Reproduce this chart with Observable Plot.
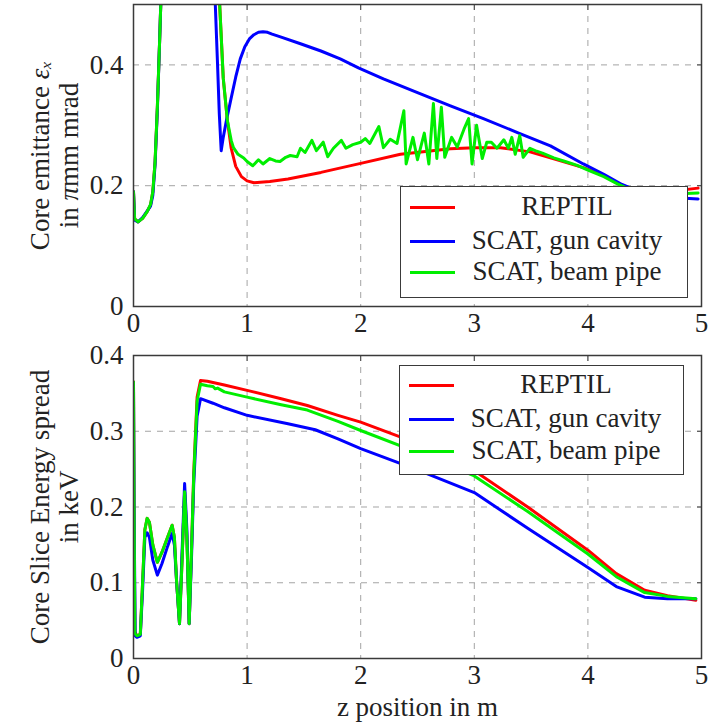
<!DOCTYPE html>
<html>
<head>
<meta charset="utf-8">
<script src="https://cdn.jsdelivr.net/npm/d3@7"></script>
<script src="https://cdn.jsdelivr.net/npm/@observablehq/plot@0.6"></script>
<style>
  html, body { margin: 0; padding: 0; background: #fff; }
  #wrap { position: relative; width: 712px; height: 727px; font-family: "Liberation Serif", serif; }
  #wrap svg { display: block; }
  .legend { position: absolute; background: #fff; border: 1.5px solid #3a3a3a; box-sizing: border-box; font-family: "Liberation Serif", serif; font-size: 27px; color: #222; }
  .legend .row { position: absolute; left: 0; width: 100%; height: 30px; }
  .legend .sw { position: absolute; left: 9px; top: 13px; width: 45px; height: 3px; }
  .legend .lab { position: absolute; left: 61px; width: 210px; top: -2px; text-align: center; line-height: 30px; white-space: nowrap; }
</style>
</head>
<body>
<div id="wrap"></div>
<script>
// ---------- Series names and colours ----------
const seriesNames = ["REPTIL", "SCAT, gun cavity", "SCAT, beam pipe"];
const seriesColors = ["#ff0000", "#0000ff", "#00ee00"];
const xTicks = [0, 1, 2, 3, 4, 5];
const yTicksTop = [0, 0.2, 0.4];
const yTicksBottom = [0, 0.1, 0.2, 0.3, 0.4];

// ---------- Top panel: core emittance (pi mm mrad) ----------
const zEmitReptil = [0, 0.01, 0.04, 0.08, 0.12, 0.15, 0.17, 0.19, 0.21, 0.23, 0.25, 0.26, 0.74, 0.757, 0.79, 0.827, 0.86, 0.9, 0.95, 1.0, 1.06, 1.2, 1.36, 1.65, 2.0, 2.35, 2.79, 3.0, 3.23, 3.49, 3.67, 3.96, 4.14, 4.26, 4.37, 4.5, 4.7, 4.97];
const emitReptil  = [0.19, 0.145, 0.14, 0.146, 0.157, 0.168, 0.19, 0.24, 0.33, 0.44, 0.56, 0.62, 0.6, 0.506, 0.378, 0.307, 0.262, 0.232, 0.215, 0.208, 0.205, 0.207, 0.211, 0.222, 0.237, 0.252, 0.261, 0.263, 0.263, 0.256, 0.246, 0.23, 0.217, 0.204, 0.196, 0.19, 0.19, 0.196];

const zEmitGun = [0, 0.01, 0.04, 0.08, 0.12, 0.15, 0.17, 0.19, 0.21, 0.23, 0.25, 0.26, 0.712, 0.72, 0.74, 0.755, 0.772, 0.79, 0.82, 0.854, 0.9, 0.94, 0.98, 1.02, 1.06, 1.1, 1.14, 1.18, 1.22, 1.3, 1.47, 1.65, 1.82, 1.98, 2.2, 2.5, 2.79, 3.08, 3.38, 3.67, 3.96, 4.14, 4.3, 4.45, 4.7, 4.97];
const emitGun  = [0.19, 0.143, 0.14, 0.147, 0.158, 0.166, 0.184, 0.235, 0.325, 0.44, 0.56, 0.62, 0.52, 0.5, 0.4, 0.32, 0.258, 0.28, 0.31, 0.34, 0.38, 0.41, 0.43, 0.443, 0.45, 0.454, 0.455, 0.454, 0.451, 0.446, 0.435, 0.423, 0.41, 0.395, 0.377, 0.354, 0.332, 0.311, 0.288, 0.266, 0.236, 0.219, 0.202, 0.19, 0.181, 0.178];

const zEmitPipe = [0, 0.01, 0.04, 0.08, 0.12, 0.15, 0.17, 0.19, 0.21, 0.23, 0.25, 0.26, 0.745, 0.757, 0.79, 0.827, 0.86, 0.88, 0.92, 0.97, 1.0, 1.05, 1.1, 1.14, 1.2, 1.25, 1.29, 1.34, 1.38, 1.44, 1.47, 1.51, 1.57, 1.61, 1.67, 1.71, 1.76, 1.83, 1.87, 1.93, 2.0, 2.04, 2.08, 2.16, 2.2, 2.26, 2.32, 2.38, 2.4, 2.46, 2.5, 2.56, 2.6, 2.64, 2.67, 2.71, 2.74, 2.8, 2.85, 2.91, 2.95, 2.98, 3.02, 3.07, 3.11, 3.15, 3.2, 3.26, 3.3, 3.33, 3.36, 3.4, 3.43, 3.49, 3.55, 3.6, 3.7, 3.8, 3.9, 4.0, 4.14, 4.26, 4.37, 4.5, 4.7, 4.97];
const emitPipe  = [0.19, 0.145, 0.14, 0.146, 0.157, 0.169, 0.19, 0.24, 0.33, 0.44, 0.56, 0.62, 0.6, 0.506, 0.378, 0.307, 0.275, 0.263, 0.252, 0.246, 0.24, 0.233, 0.243, 0.236, 0.245, 0.241, 0.24, 0.247, 0.25, 0.248, 0.262, 0.255, 0.275, 0.258, 0.272, 0.248, 0.262, 0.275, 0.262, 0.268, 0.272, 0.278, 0.27, 0.298, 0.263, 0.277, 0.27, 0.324, 0.236, 0.28, 0.243, 0.287, 0.236, 0.336, 0.245, 0.33, 0.247, 0.28, 0.264, 0.294, 0.311, 0.236, 0.3, 0.245, 0.272, 0.272, 0.262, 0.276, 0.262, 0.28, 0.252, 0.283, 0.247, 0.262, 0.257, 0.254, 0.246, 0.24, 0.234, 0.226, 0.215, 0.203, 0.194, 0.188, 0.186, 0.188];

// ---------- Bottom panel: core slice energy spread (keV) ----------
const zSpreadReptil = [0, 0.005, 0.012, 0.03, 0.06, 0.08, 0.1, 0.12, 0.14, 0.17, 0.21, 0.25, 0.3, 0.34, 0.36, 0.38, 0.405, 0.425, 0.45, 0.47, 0.49, 0.51, 0.53, 0.56, 0.59, 0.65, 0.8, 1.0, 1.3, 1.53, 1.8, 2.0, 2.5, 3.0, 3.47, 4.0, 4.25, 4.5, 4.7, 4.95];
const spreadReptil  = [0.365, 0.2, 0.035, 0.03, 0.032, 0.1, 0.17, 0.185, 0.18, 0.15, 0.127, 0.14, 0.16, 0.176, 0.16, 0.1, 0.046, 0.12, 0.22, 0.16, 0.046, 0.14, 0.244, 0.345, 0.367, 0.366, 0.361, 0.354, 0.343, 0.334, 0.321, 0.312, 0.284, 0.248, 0.2, 0.143, 0.112, 0.09, 0.083, 0.077];

const zSpreadGun = [0, 0.005, 0.015, 0.03, 0.06, 0.08, 0.1, 0.12, 0.14, 0.17, 0.21, 0.25, 0.3, 0.34, 0.36, 0.38, 0.405, 0.425, 0.45, 0.47, 0.49, 0.51, 0.53, 0.56, 0.59, 0.7, 0.8, 1.0, 1.36, 1.6, 1.8, 2.0, 2.5, 3.0, 3.47, 4.0, 4.25, 4.5, 4.7, 4.95];
const spreadGun  = [0.36, 0.2, 0.03, 0.028, 0.03, 0.09, 0.16, 0.166, 0.16, 0.13, 0.11, 0.125, 0.148, 0.165, 0.15, 0.1, 0.046, 0.13, 0.231, 0.17, 0.046, 0.13, 0.23, 0.32, 0.343, 0.337, 0.331, 0.321, 0.31, 0.302, 0.29, 0.277, 0.249, 0.219, 0.172, 0.12, 0.095, 0.081, 0.079, 0.079];

const zSpreadPipe = [0, 0.005, 0.012, 0.03, 0.06, 0.08, 0.1, 0.12, 0.14, 0.17, 0.21, 0.25, 0.3, 0.34, 0.36, 0.38, 0.405, 0.425, 0.45, 0.47, 0.49, 0.51, 0.53, 0.56, 0.59, 0.65, 0.7, 0.72, 0.74, 0.8, 1.0, 1.3, 1.53, 1.8, 2.0, 2.5, 3.0, 3.47, 4.0, 4.25, 4.5, 4.7, 4.95];
const spreadPipe  = [0.365, 0.2, 0.033, 0.03, 0.032, 0.1, 0.17, 0.185, 0.18, 0.15, 0.127, 0.14, 0.16, 0.176, 0.16, 0.1, 0.046, 0.12, 0.22, 0.16, 0.046, 0.14, 0.24, 0.34, 0.362, 0.36, 0.359, 0.356, 0.357, 0.352, 0.345, 0.335, 0.328, 0.313, 0.301, 0.272, 0.241, 0.194, 0.138, 0.108, 0.087, 0.082, 0.079];

// ---------- build tables ----------
const zip = (xs, ys, s) => xs.map((x, i) => ({z: x, v: ys[i], s}));
const topSeries = [
  zip(zEmitReptil, emitReptil, 0),
  zip(zEmitGun, emitGun, 1),
  zip(zEmitPipe, emitPipe, 2)
];
const botSeries = [
  zip(zSpreadReptil, spreadReptil, 0),
  zip(zSpreadGun, spreadGun, 1),
  zip(zSpreadPipe, spreadPipe, 2)
];

const FONT = "Liberation Serif";
const FS = 27;
const gridStyle = {stroke: "#9a9a9a", strokeOpacity: 0.9, strokeDasharray: "6,6", strokeWidth: 1};
const fmtY = d => d === 0 ? "0" : d.toFixed(1);
const fmtX = d => String(d);
const blank = () => "";

function panel({series, yDomain, yTicks, height, marginTop, marginBottom, label, xLabel}) {
  const marks = [
    Plot.gridX(xTicks.slice(1, -1), gridStyle),
    Plot.gridY(yTicks.filter(t => t > 0 && t < yDomain[1]), gridStyle),
    Plot.axisX(xTicks, {anchor: "top", tickSize: -5, tickFormat: blank, stroke: "#444", label: null}),
    Plot.axisY(yTicks, {anchor: "right", tickSize: -5, tickFormat: blank, stroke: "#444", label: null}),
    Plot.axisX(xTicks, {anchor: "bottom", tickSize: 0, tickPadding: 6, fontSize: FS, fontFamily: FONT, fill: "#222", tickFormat: fmtX, label: null}),
    Plot.axisY(yTicks, {anchor: "left", tickSize: 0, tickPadding: 10, fontSize: FS, fontFamily: FONT, fill: "#222", tickFormat: fmtY, label: null}),
    ...series.map((d, i) => Plot.line(d, {x: "z", y: "v", stroke: seriesColors[i], strokeWidth: 3, clip: true, curve: "linear"})),
    Plot.frame({stroke: "#3a3a3a", strokeWidth: 1.5}),
    Plot.text([label], {frameAnchor: "left", textAnchor: "middle", rotate: -90, dx: -79, fontSize: FS, fontFamily: FONT, lineHeight: 1.04, fill: "#222", text: d => d})
  ];
  if (xLabel) marks.push(Plot.text([xLabel], {frameAnchor: "bottom", dy: 57, fontSize: FS, fontFamily: FONT, fill: "#222", text: d => d}));
  return Plot.plot({
    width: 712,
    height,
    marginLeft: 133,
    marginRight: 11,
    marginTop,
    marginBottom,
    style: {fontFamily: FONT, background: "white", overflow: "visible"},
    x: {domain: [0, 5]},
    y: {domain: yDomain},
    marks
  });
}

const wrap = document.getElementById("wrap");
const topChart = panel({
  series: topSeries, yDomain: [0, 0.5], yTicks: yTicksTop,
  height: 340, marginTop: 4, marginBottom: 34,
  label: "Core emittance \u03b5\u2093\nin \u03c0mm mrad"
});
wrap.appendChild(topChart);
wrap.appendChild(panel({
  series: botSeries, yDomain: [0, 0.4], yTicks: yTicksBottom,
  height: 387, marginTop: 15, marginBottom: 69,
  label: "Core Slice Energy spread\nin keV",
  xLabel: "z position in m"
}));

// italicise the Greek letters of the top y label (kept as real text)
d3.select(topChart).selectAll("text tspan, text").each(function() {
  const el = this;
  if (el.childNodes.length === 1 && el.firstChild.nodeType === 3) {
    const t = el.textContent;
    if (/[\u03b5\u03c0]/.test(t)) {
      const parts = t.split(/([\u03b5\u03c0]\u2093?)/);
      el.textContent = "";
      parts.forEach(p => {
        if (!p) return;
        const ts = document.createElementNS("http://www.w3.org/2000/svg", "tspan");
        ts.textContent = p;
        if (/[\u03b5\u03c0]/.test(p)) ts.setAttribute("font-style", "italic");
        el.appendChild(ts);
      });
    }
  }
});

function legend(left, top, w, h, rowTops) {
  const box = document.createElement("div");
  box.className = "legend";
  Object.assign(box.style, {left: left + "px", top: top + "px", width: w + "px", height: h + "px"});
  seriesNames.forEach((name, i) => {
    const row = document.createElement("div");
    row.className = "row";
    row.style.top = rowTops[i] + "px";
    const sw = document.createElement("div");
    sw.className = "sw";
    sw.style.background = seriesColors[i];
    const lab = document.createElement("div");
    lab.className = "lab";
    lab.textContent = name;
    row.appendChild(sw); row.appendChild(lab);
    box.appendChild(row);
  });
  wrap.appendChild(box);
}
legend(400, 186, 288, 112, [6, 40, 71]);
legend(399, 365, 285, 110, [5, 39, 71]);
</script>
</body>
</html>
